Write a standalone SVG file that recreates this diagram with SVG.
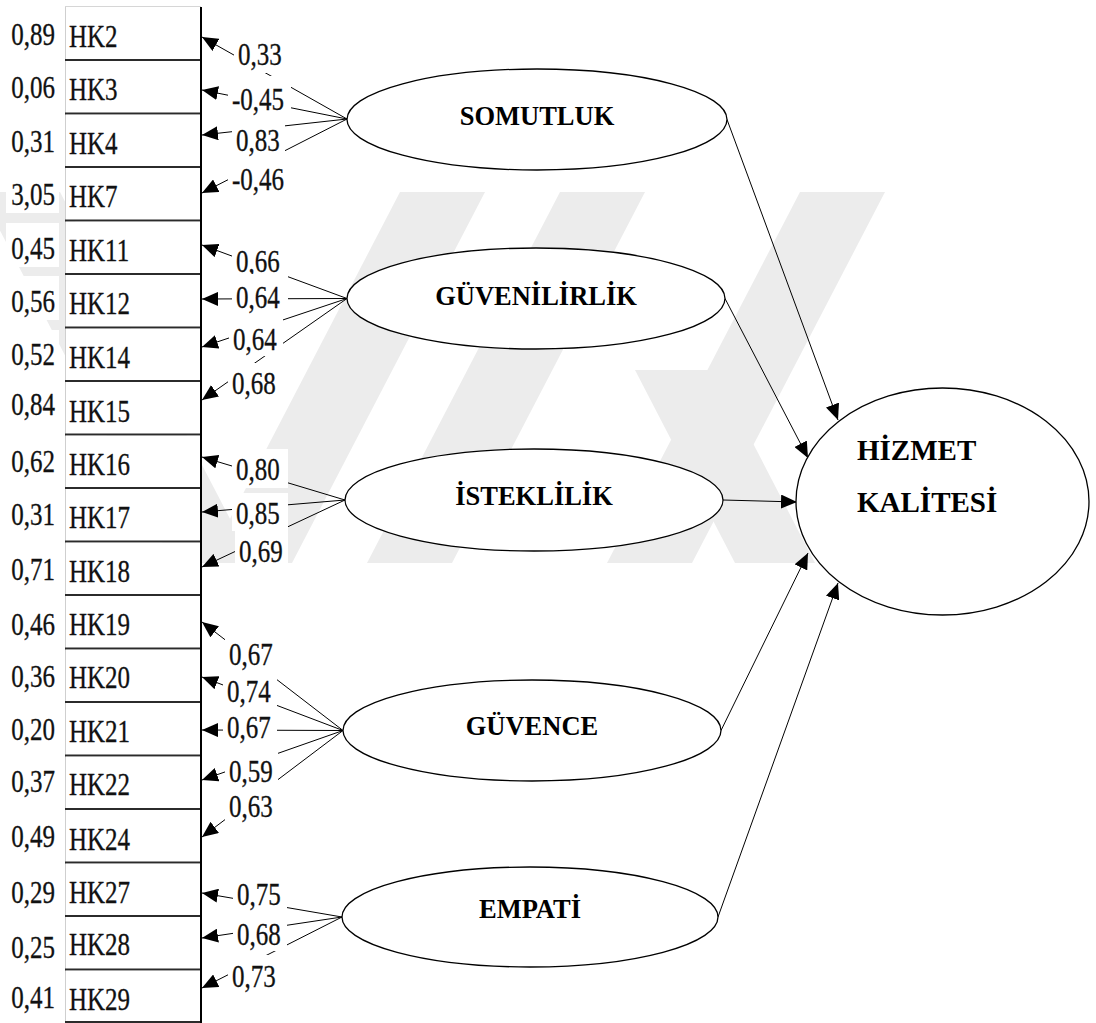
<svg xmlns="http://www.w3.org/2000/svg" width="1096" height="1023" viewBox="0 0 1096 1023">
  <style>
    .num { font-family: "Liberation Serif", "Times New Roman", serif; font-size: 25px; fill: #111; stroke: #111; stroke-width: 0.25; }
    .lat { font-family: "Liberation Serif", "Times New Roman", serif; font-size: 26.5px; font-weight: bold; fill: #000; text-anchor: middle; }
    .big { font-family: "Liberation Serif", "Times New Roman", serif; font-size: 29px; font-weight: bold; fill: #000; }
    .box { fill: #fff; }
    .sep { stroke: #2b2b2b; stroke-width: 2; }
    .sep2 { stroke: #b8b8b8; stroke-width: 1; }
    .oval { fill: #fff; stroke: #000; stroke-width: 1.3; }
    .edge { stroke: #000; stroke-width: 1; fill: none; marker-end: url(#ah); }
    .bg { fill: #fff; }
    .wm { fill: #ececec; }
  </style>
  <defs>
    <marker id="ah" markerUnits="userSpaceOnUse" markerWidth="16" markerHeight="14" refX="16" refY="7" orient="auto">
      <path d="M0,0 L16,7 L0,14 Z" fill="#000"/>
    </marker>
  </defs>

  <rect width="1096" height="1023" fill="#fff"/>

  <!-- faint background emblem: slanted bars -->
  <g id="emblem">
    <polygon class="wm" points="-20,192 60,192 253,563 173,563"/>
    <polygon class="wm" points="400,192 485,192 292,563 207,563"/>
    <polygon class="wm" points="560,192 645,192 452,563 367,563"/>
    <polygon class="wm" points="800,192 885,192 692,563 607,563"/>
    <polygon class="wm" points="635,370 715,370 815,563 735,563"/>
  </g>

  <!-- observed items: one box per indicator, error variance on the left -->
  <g id="items">
    <line x1="65.5" y1="6" x2="65.5" y2="1022" stroke="#cfcfcf"/>
    <line x1="65" y1="6.5" x2="201" y2="6.5" stroke="#d6d6d6"/>

    <g id="hk2"><rect class="box" x="66" y="7" width="135" height="53"/><line class="sep" x1="65" y1="60" x2="201" y2="60"/><line class="sep2" x1="66" y1="61.5" x2="200" y2="61.5"/>
      <rect class="bg" x="6" y="8" width="53" height="44"/>
      <text class="num" text-anchor="end" transform="translate(55,45) scale(1,1.3)">0,89</text>
      <text class="num" transform="translate(69,47) scale(1,1.3)">HK2</text></g>
    <g id="hk3"><rect class="box" x="66" y="61" width="135" height="52"/><line class="sep" x1="65" y1="113.5" x2="201" y2="113.5"/><line class="sep2" x1="66" y1="115" x2="200" y2="115"/>
      <rect class="bg" x="6" y="62" width="53" height="44"/>
      <text class="num" text-anchor="end" transform="translate(55,98) scale(1,1.3)">0,06</text>
      <text class="num" transform="translate(69,100) scale(1,1.3)">HK3</text></g>
    <g id="hk4"><rect class="box" x="66" y="115" width="135" height="52"/><line class="sep" x1="65" y1="167" x2="201" y2="167"/><line class="sep2" x1="66" y1="168.5" x2="200" y2="168.5"/>
      <rect class="bg" x="6" y="116" width="53" height="44"/>
      <text class="num" text-anchor="end" transform="translate(55,152) scale(1,1.3)">0,31</text>
      <text class="num" transform="translate(69,154) scale(1,1.3)">HK4</text></g>
    <g id="hk7"><rect class="box" x="66" y="168" width="135" height="52"/><line class="sep" x1="65" y1="220.5" x2="201" y2="220.5"/><line class="sep2" x1="66" y1="222" x2="200" y2="222"/>
      <rect class="bg" x="6" y="168" width="53" height="45"/>
      <text class="num" text-anchor="end" transform="translate(55,205) scale(1,1.3)">3,05</text>
      <text class="num" transform="translate(69,207) scale(1,1.3)">HK7</text></g>
    <g id="hk11"><rect class="box" x="66" y="222" width="135" height="52"/><line class="sep" x1="65" y1="274" x2="201" y2="274"/><line class="sep2" x1="66" y1="275.5" x2="200" y2="275.5"/>
      <rect class="bg" x="6" y="223" width="53" height="44"/>
      <text class="num" text-anchor="end" transform="translate(55,259) scale(1,1.3)">0,45</text>
      <text class="num" transform="translate(69,261) scale(1,1.3)">HK11</text></g>
    <g id="hk12"><rect class="box" x="66" y="275" width="135" height="52"/><line class="sep" x1="65" y1="327.5" x2="201" y2="327.5"/><line class="sep2" x1="66" y1="329" x2="200" y2="329"/>
      <rect class="bg" x="6" y="276" width="53" height="44"/>
      <text class="num" text-anchor="end" transform="translate(55,312) scale(1,1.3)">0,56</text>
      <text class="num" transform="translate(69,314) scale(1,1.3)">HK12</text></g>
    <g id="hk14"><rect class="box" x="66" y="329" width="135" height="52"/><line class="sep" x1="65" y1="381" x2="201" y2="381"/><line class="sep2" x1="66" y1="382.5" x2="200" y2="382.5"/>
      <rect class="bg" x="6" y="330" width="53" height="44"/>
      <text class="num" text-anchor="end" transform="translate(55,365) scale(1,1.3)">0,52</text>
      <text class="num" transform="translate(69,368) scale(1,1.3)">HK14</text></g>
    <g id="hk15"><rect class="box" x="66" y="382" width="135" height="52"/><line class="sep" x1="65" y1="434.5" x2="201" y2="434.5"/><line class="sep2" x1="66" y1="436" x2="200" y2="436"/>
      <rect class="bg" x="6" y="383" width="53" height="44"/>
      <text class="num" text-anchor="end" transform="translate(55,415) scale(1,1.3)">0,84</text>
      <text class="num" transform="translate(69,422) scale(1,1.3)">HK15</text></g>
    <g id="hk16"><rect class="box" x="66" y="436" width="135" height="52"/><line class="sep" x1="65" y1="488" x2="201" y2="488"/><line class="sep2" x1="66" y1="489.5" x2="200" y2="489.5"/>
      <rect class="bg" x="6" y="437" width="53" height="44"/>
      <text class="num" text-anchor="end" transform="translate(55,472) scale(1,1.3)">0,62</text>
      <text class="num" transform="translate(69,475) scale(1,1.3)">HK16</text></g>
    <g id="hk17"><rect class="box" x="66" y="489" width="135" height="52"/><line class="sep" x1="65" y1="541.5" x2="201" y2="541.5"/><line class="sep2" x1="66" y1="543" x2="200" y2="543"/>
      <rect class="bg" x="6" y="490" width="53" height="44"/>
      <text class="num" text-anchor="end" transform="translate(55,525) scale(1,1.3)">0,31</text>
      <text class="num" transform="translate(69,528) scale(1,1.3)">HK17</text></g>
    <g id="hk18"><rect class="box" x="66" y="543" width="135" height="52"/><line class="sep" x1="65" y1="595" x2="201" y2="595"/><line class="sep2" x1="66" y1="596.5" x2="200" y2="596.5"/>
      <rect class="bg" x="6" y="544" width="53" height="44"/>
      <text class="num" text-anchor="end" transform="translate(55,580) scale(1,1.3)">0,71</text>
      <text class="num" transform="translate(69,582) scale(1,1.3)">HK18</text></g>
    <g id="hk19"><rect class="box" x="66" y="596" width="135" height="52"/><line class="sep" x1="65" y1="648.5" x2="201" y2="648.5"/><line class="sep2" x1="66" y1="650" x2="200" y2="650"/>
      <rect class="bg" x="6" y="597" width="53" height="44"/>
      <text class="num" text-anchor="end" transform="translate(55,635) scale(1,1.3)">0,46</text>
      <text class="num" transform="translate(69,635) scale(1,1.3)">HK19</text></g>
    <g id="hk20"><rect class="box" x="66" y="650" width="135" height="52"/><line class="sep" x1="65" y1="702" x2="201" y2="702"/><line class="sep2" x1="66" y1="703.5" x2="200" y2="703.5"/>
      <rect class="bg" x="6" y="651" width="53" height="44"/>
      <text class="num" text-anchor="end" transform="translate(55,687) scale(1,1.3)">0,36</text>
      <text class="num" transform="translate(69,688) scale(1,1.3)">HK20</text></g>
    <g id="hk21"><rect class="box" x="66" y="703" width="135" height="52"/><line class="sep" x1="65" y1="755.5" x2="201" y2="755.5"/><line class="sep2" x1="66" y1="757" x2="200" y2="757"/>
      <rect class="bg" x="6" y="704" width="53" height="44"/>
      <text class="num" text-anchor="end" transform="translate(55,740) scale(1,1.3)">0,20</text>
      <text class="num" transform="translate(69,742) scale(1,1.3)">HK21</text></g>
    <g id="hk22"><rect class="box" x="66" y="757" width="135" height="52"/><line class="sep" x1="65" y1="809" x2="201" y2="809"/><line class="sep2" x1="66" y1="810.5" x2="200" y2="810.5"/>
      <rect class="bg" x="6" y="758" width="53" height="44"/>
      <text class="num" text-anchor="end" transform="translate(55,792) scale(1,1.3)">0,37</text>
      <text class="num" transform="translate(69,795) scale(1,1.3)">HK22</text></g>
    <g id="hk24"><rect class="box" x="66" y="810" width="135" height="52"/><line class="sep" x1="65" y1="862.5" x2="201" y2="862.5"/><line class="sep2" x1="66" y1="864" x2="200" y2="864"/>
      <rect class="bg" x="6" y="811" width="53" height="44"/>
      <text class="num" text-anchor="end" transform="translate(55,847) scale(1,1.3)">0,49</text>
      <text class="num" transform="translate(69,850) scale(1,1.3)">HK24</text></g>
    <g id="hk27"><rect class="box" x="66" y="864" width="135" height="52"/><line class="sep" x1="65" y1="916" x2="201" y2="916"/><line class="sep2" x1="66" y1="917.5" x2="200" y2="917.5"/>
      <rect class="bg" x="6" y="865" width="53" height="44"/>
      <text class="num" text-anchor="end" transform="translate(55,903) scale(1,1.3)">0,29</text>
      <text class="num" transform="translate(69,903) scale(1,1.3)">HK27</text></g>
    <g id="hk28"><rect class="box" x="66" y="917" width="135" height="52"/><line class="sep" x1="65" y1="969.5" x2="201" y2="969.5"/><line class="sep2" x1="66" y1="971" x2="200" y2="971"/>
      <rect class="bg" x="6" y="918" width="53" height="44"/>
      <text class="num" text-anchor="end" transform="translate(55,958) scale(1,1.3)">0,25</text>
      <text class="num" transform="translate(69,955) scale(1,1.3)">HK28</text></g>
    <g id="hk29"><rect class="box" x="66" y="971" width="135" height="51"/><line class="sep" x1="65" y1="1022" x2="201" y2="1022"/>
      <rect class="bg" x="6" y="972" width="53" height="44"/>
      <text class="num" text-anchor="end" transform="translate(55,1008) scale(1,1.3)">0,41</text>
      <text class="num" transform="translate(69,1010) scale(1,1.3)">HK29</text></g>

    <line x1="201" y1="7" x2="201" y2="1023" stroke="#000" stroke-width="2"/>
  </g>

  <!-- loadings, structural paths and their coefficient labels -->
  <g id="connectors">
    <line class="edge" x1="347" y1="119" x2="202" y2="37"/>
    <line class="edge" x1="347" y1="119" x2="202" y2="90"/>
    <line class="edge" x1="347" y1="119" x2="202" y2="135"/>
    <line class="edge" x1="347" y1="119" x2="202" y2="193"/>

    <line class="edge" x1="347" y1="298.5" x2="202" y2="245"/>
    <line class="edge" x1="347" y1="298.5" x2="202" y2="299"/>
    <line class="edge" x1="347" y1="298.5" x2="202" y2="347"/>
    <line class="edge" x1="347" y1="298.5" x2="202" y2="400"/>

    <line class="edge" x1="345" y1="500" x2="202" y2="457"/>
    <line class="edge" x1="345" y1="500" x2="202" y2="512"/>
    <line class="edge" x1="345" y1="500" x2="202" y2="567"/>

    <line class="edge" x1="343" y1="730.5" x2="202" y2="622"/>
    <line class="edge" x1="343" y1="730.5" x2="202" y2="677"/>
    <line class="edge" x1="343" y1="730.5" x2="202" y2="730"/>
    <line class="edge" x1="343" y1="730.5" x2="202" y2="780"/>
    <line class="edge" x1="343" y1="730.5" x2="202" y2="837"/>

    <line class="edge" x1="342" y1="917" x2="202" y2="893"/>
    <line class="edge" x1="342" y1="917" x2="202" y2="938"/>
    <line class="edge" x1="342" y1="917" x2="202" y2="988"/>

    <line class="edge" x1="727" y1="119.5" x2="838" y2="420"/>
    <line class="edge" x1="725" y1="298.5" x2="808" y2="458"/>
    <line class="edge" x1="723" y1="500" x2="797" y2="502"/>
    <line class="edge" x1="721" y1="730.5" x2="808" y2="553"/>
    <line class="edge" x1="718" y1="917" x2="838" y2="583"/>

    <g id="coefficients">
      <rect class="bg" x="234" y="33" width="54" height="40"/>
      <text class="num" transform="translate(238,65) scale(1,1.3)">0,33</text>
      <rect class="bg" x="228" y="76" width="63" height="42"/>
      <text class="num" transform="translate(232,110) scale(1,1.3)">-0,45</text>
      <rect class="bg" x="232" y="118" width="53" height="41"/>
      <text class="num" transform="translate(236,151) scale(1,1.3)">0,83</text>
      <rect class="bg" x="228" y="157" width="64" height="41"/>
      <text class="num" transform="translate(232,190) scale(1,1.3)">-0,46</text>

      <rect class="bg" x="232" y="238" width="56" height="42"/>
      <text class="num" transform="translate(236,272) scale(1,1.3)">0,66</text>
      <rect class="bg" x="232" y="274" width="56" height="42"/>
      <text class="num" transform="translate(236,308) scale(1,1.3)">0,64</text>
      <rect class="bg" x="229" y="317" width="54" height="39"/>
      <text class="num" transform="translate(233,350) scale(1,1.3)">0,64</text>
      <rect class="bg" x="228" y="363" width="55" height="39"/>
      <text class="num" transform="translate(232,394) scale(1,1.3)">0,68</text>

      <rect class="bg" x="232" y="449" width="56" height="39"/>
      <text class="num" transform="translate(236,480) scale(1,1.3)">0,80</text>
      <rect class="bg" x="232" y="493" width="56" height="38"/>
      <text class="num" transform="translate(236,524) scale(1,1.3)">0,85</text>
      <rect class="bg" x="235" y="531" width="53" height="39"/>
      <text class="num" transform="translate(239,562) scale(1,1.3)">0,69</text>

      <rect class="bg" x="225" y="634" width="53" height="39"/>
      <text class="num" transform="translate(229,665) scale(1,1.3)">0,67</text>
      <rect class="bg" x="223" y="673" width="54" height="37"/>
      <text class="num" transform="translate(227,702) scale(1,1.3)">0,74</text>
      <rect class="bg" x="223" y="710" width="54" height="36"/>
      <text class="num" transform="translate(227,738) scale(1,1.3)">0,67</text>
      <rect class="bg" x="225" y="750" width="53" height="38"/>
      <text class="num" transform="translate(229,782) scale(1,1.3)">0,59</text>
      <rect class="bg" x="225" y="788" width="52" height="36"/>
      <text class="num" transform="translate(229,817) scale(1,1.3)">0,63</text>

      <rect class="bg" x="233" y="872" width="54" height="41"/>
      <text class="num" transform="translate(237,905) scale(1,1.3)">0,75</text>
      <rect class="bg" x="233" y="914" width="54" height="37"/>
      <text class="num" transform="translate(237,945) scale(1,1.3)">0,68</text>
      <rect class="bg" x="228" y="955" width="54" height="40"/>
      <text class="num" transform="translate(232,987) scale(1,1.3)">0,73</text>
    </g>
  </g>

  <!-- latent factors -->
  <g id="somutluk"><ellipse class="oval" cx="537" cy="119.5" rx="190" ry="50.5"/><text class="lat" x="537" y="125">SOMUTLUK</text></g>
  <g id="guvenilirlik"><ellipse class="oval" cx="536" cy="298.5" rx="189" ry="50.5"/><text class="lat" x="536" y="305">GÜVENİLİRLİK</text></g>
  <g id="isteklilik"><ellipse class="oval" cx="534" cy="500" rx="189" ry="51"/><text class="lat" x="534" y="505">İSTEKLİLİK</text></g>
  <g id="guvence"><ellipse class="oval" cx="532" cy="730.5" rx="189" ry="50.5"/><text class="lat" x="532" y="735">GÜVENCE</text></g>
  <g id="empati"><ellipse class="oval" cx="530" cy="917" rx="188" ry="50"/><text class="lat" x="530" y="918">EMPATİ</text></g>

  <g id="hizmet-kalitesi">
    <ellipse class="oval" cx="942.5" cy="501.5" rx="146.5" ry="113.5"/>
    <text class="big" x="857" y="460">HİZMET</text>
    <text class="big" x="857" y="512">KALİTESİ</text>
  </g>
</svg>
